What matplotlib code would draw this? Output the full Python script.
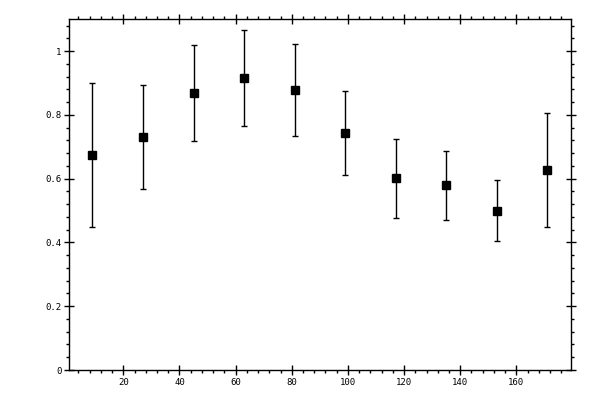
import matplotlib
matplotlib.use('Agg')
import matplotlib.pyplot as plt
from matplotlib.ticker import MultipleLocator

# values
x_vals = [9, 27, 45, 63, 81, 99, 117, 135, 153, 171]
y_vals = [0.674, 0.730, 0.868, 0.915, 0.878, 0.742, 0.601, 0.579, 0.500, 0.626]
y_err = [0.226, 0.163, 0.151, 0.151, 0.144, 0.132, 0.124, 0.109, 0.097, 0.179]

fig = plt.figure(figsize=(6, 4), dpi=100)
ax = fig.add_axes([0.1155, 0.075, 0.8355, 0.877])

ax.errorbar(x_vals, y_vals, yerr=y_err, fmt='s', color='black',
            markersize=5.8, elinewidth=1.0, capsize=2.2, capthick=1.0)

ax.set_xlim(0.75, 179.3)
ax.set_ylim(0, 1.1)
ax.xaxis.set_major_locator(MultipleLocator(20))
ax.xaxis.set_minor_locator(MultipleLocator(4))
ax.yaxis.set_major_locator(MultipleLocator(0.2))
ax.yaxis.set_minor_locator(MultipleLocator(0.04))
ax.yaxis.set_major_formatter(plt.FuncFormatter(lambda v, p: '%g' % round(v, 2)))

for sp in ax.spines.values():
    sp.set_linewidth(1.0)

ax.tick_params(which='major', direction='inout', length=7, width=1.0,
               top=True, right=True, labelsize=6.5, pad=2)
ax.tick_params(which='minor', direction='out', length=2.5, width=1.0,
               top=True, right=True)
for lbl in ax.get_xticklabels() + ax.get_yticklabels():
    lbl.set_family('DejaVu Sans Mono')

fig.savefig('out.png', dpi=100)
